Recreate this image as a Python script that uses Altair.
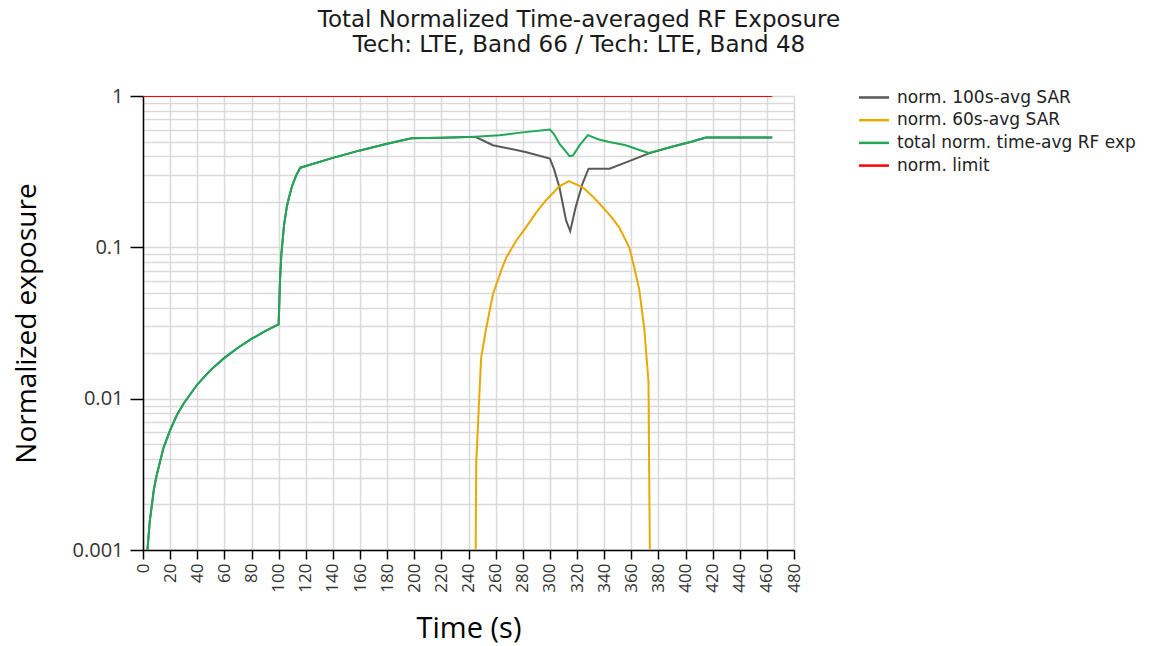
import altair as alt
import pandas as pd

# ---- data ----
sar100_t = [3, 5, 8, 10, 15, 20, 25, 30, 40, 50, 60, 70, 80, 90, 100, 101, 102, 104, 106, 108, 110, 113, 116,
            140, 160, 180, 198, 220, 240, 245, 258, 282, 300, 303, 307, 312, 315, 319, 324, 328.5, 344, 358,
            373, 390, 405, 415, 440, 464]
sar100_v = [0.00093, 0.00155, 0.0025, 0.0031, 0.0047, 0.0062, 0.0078, 0.0093, 0.0124, 0.0155, 0.0186, 0.0217,
            0.0248, 0.0279, 0.031, 0.06, 0.09, 0.14, 0.185, 0.22, 0.255, 0.30, 0.336,
            0.39, 0.437, 0.484, 0.525, 0.530, 0.535, 0.537, 0.473, 0.427, 0.386, 0.33, 0.25, 0.15, 0.128, 0.184,
            0.263, 0.331, 0.331, 0.37, 0.418, 0.462, 0.50, 0.532, 0.532, 0.532]

sar60_t = [245.2, 245.7, 247, 249.3, 253, 258, 265, 268, 275, 282.5, 290, 297, 307, 314, 324, 332, 339, 345,
           351, 358.5, 362, 366, 369.6, 372.7, 373.3, 373.8]
sar60_v = [0.0008, 0.0038, 0.0067, 0.0186, 0.029, 0.049, 0.074, 0.086, 0.11, 0.136, 0.17, 0.204, 0.253, 0.274,
           0.25, 0.215, 0.184, 0.16, 0.136, 0.1, 0.075, 0.052, 0.029, 0.013, 0.0027, 0.0008]

total_t = [3, 5, 8, 10, 15, 20, 25, 30, 40, 50, 60, 70, 80, 90, 100, 101, 102, 104, 106, 108, 110, 113, 116,
           140, 160, 180, 198, 220, 240, 245, 263, 280, 300, 303, 307, 312, 314.5, 317, 322, 328, 336, 344,
           356, 366, 373, 390, 405, 415, 440, 464]
total_v = [0.00093, 0.00155, 0.0025, 0.0031, 0.0047, 0.0062, 0.0078, 0.0093, 0.0124, 0.0155, 0.0186, 0.0217,
           0.0248, 0.0279, 0.031, 0.06, 0.09, 0.14, 0.185, 0.22, 0.255, 0.30, 0.336,
           0.39, 0.437, 0.484, 0.525, 0.530, 0.535, 0.537, 0.551, 0.575, 0.601, 0.56, 0.485, 0.427, 0.40, 0.404,
           0.473, 0.551, 0.516, 0.497, 0.473, 0.44, 0.42, 0.462, 0.50, 0.532, 0.532, 0.532]

limit_t = [0, 464]
limit_v = [1, 1]

names = ["norm. 100s-avg SAR", "norm. 60s-avg SAR", "total norm. time-avg RF exp", "norm. limit"]
colors = ["#595959", "#e8a900", "#21a857", "#ff0000"]

x_ticks = list(range(0, 481, 20))
y_labels = [0.001, 0.01, 0.1, 1]
y_grid = [round(k * 10 ** e, 6) for e in (-3, -2, -1) for k in range(1, 10)] + [1]

frames = []
for name, ts, vs in zip(names, [sar100_t, sar60_t, total_t, limit_t], [sar100_v, sar60_v, total_v, limit_v]):
    frames.append(pd.DataFrame({"t": ts, "v": vs, "series": name}))
df = pd.concat(frames, ignore_index=True)

dec_test = "indexof([0.001,0.01,0.1,1], datum.value) >= 0"

x_enc = alt.X("t:Q", scale=alt.Scale(domain=[0, 480], nice=False),
              axis=alt.Axis(values=x_ticks, title="Time (s)", labelAngle=270, labelFontSize=17,
                            labelFont="Open Sans", labelColor="#333333", labelPadding=4,
                            tickSize=9, tickColor="black", tickWidth=1.5,
                            domainColor="black", domainWidth=1.5,
                            grid=True, gridColor="#d9d9d9", gridWidth=1.5,
                            titleFont="Open Sans", titleFontSize=29, titleFontWeight="normal",
                            titleColor="black", titleX=325.5, titleY=87, titleBaseline="alphabetic",
                            titleAlign="center"))
y_enc = alt.Y("v:Q", scale=alt.Scale(type="log", domain=[0.001, 1], nice=False),
              axis=alt.Axis(values=y_grid, title="Normalized exposure",
                            labelExpr=dec_test + " ? format(datum.value, '~g') : ''",
                            labelFontSize=20, labelFont="Open Sans", labelColor="#333333", labelPadding=7,
                            tickSize=13, tickWidth=1.5,
                            tickColor={"condition": {"test": dec_test, "value": "black"}, "value": "transparent"},
                            domainColor="black", domainWidth=1.5,
                            grid=True, gridColor="#d9d9d9", gridWidth=1.5,
                            titleFont="Open Sans", titleFontSize=28, titleFontWeight="normal",
                            titleColor="black", titleX=-116, titleY=227, titleAngle=270,
                            titleAlign="center", titleBaseline="middle"))
color_enc = alt.Color("series:N", scale=alt.Scale(domain=names, range=colors),
                      legend=alt.Legend(title=None, orient="none", legendX=719.5, legendY=-10,
                                        symbolType="M-1.5,0H1.5", symbolSize=400, symbolStrokeWidth=2.5,
                                        labelOffset=11.5, labelFont="DejaVu Sans", labelFontSize=17,
                                        labelLimit=400, labelColor="#222222", rowPadding=2.7, padding=0))

layers = []
for name in names:
    layers.append(
        alt.Chart(df).transform_filter(alt.datum.series == name)
        .mark_line(strokeWidth=2, clip=True)
        .encode(x=x_enc, y=y_enc, color=color_enc)
    )

chart = alt.layer(*layers).properties(
    width=651, height=454,
    title=alt.TitleParams(
        text=["Total Normalized Time-averaged RF Exposure", "Tech: LTE, Band 66 / Tech: LTE, Band 48"],
        font="DejaVu Sans", fontSize=23, fontWeight="normal", color="#1a1a1a",
        anchor="middle", dx=110.5, offset=29, lineHeight=25),
    autosize=alt.AutoSizeParams(type="none"),
    padding={"left": 135, "top": 88, "right": 350, "bottom": 96},
).configure_view(strokeWidth=0)

chart.save("out.html", embed_options={"renderer": "svg", "actions": False})
